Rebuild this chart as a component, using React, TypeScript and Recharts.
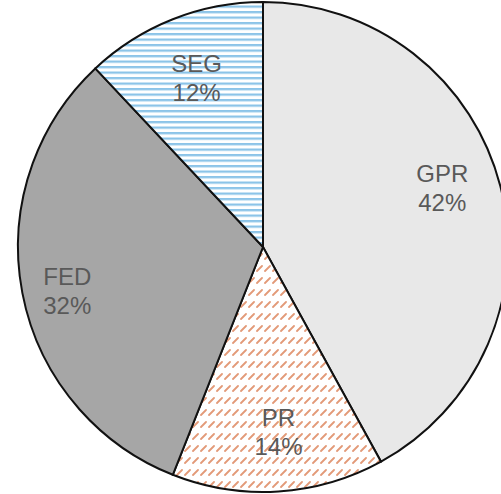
import { PieChart, Pie, Cell } from "recharts";

const CATEGORIES = ["GPR", "PR", "FED", "SEG"];
const SHARES = [42, 14, 32, 12];

const FILLS = ["#e8e8e8", "url(#prHatch)", "#a6a6a6", "url(#segLines)"];
// small hand nudges so labels sit where the original put them
const LABEL_NUDGE = [
  [2, -13],
  [4, 2],
  [-16, 10],
  [1, 1],
];

const RAD = Math.PI / 180;

const data = CATEGORIES.map((name, i) => ({ name, value: SHARES[i] }));
const total = SHARES.reduce((s, v) => s + v, 0);

function renderLabel(props: any) {
  const { cx, cy, midAngle, index, value, name } = props;
  const r = 183;
  const x = cx + r * Math.cos(-midAngle * RAD) + LABEL_NUDGE[index][0];
  const y = cy + r * Math.sin(-midAngle * RAD) + LABEL_NUDGE[index][1];
  const pct = Math.round((value / total) * 100);
  return (
    <text
      x={x}
      y={y}
      textAnchor="middle"
      fill="#595959"
      fontFamily="'Liberation Sans', Arial, sans-serif"
      fontSize={24}
    >
      <tspan x={x} y={y - 6}>
        {name}
      </tspan>
      <tspan x={x} y={y + 23}>
        {pct}%
      </tspan>
    </text>
  );
}

export default function App() {
  return (
    <div style={{ position: "absolute", left: 0, top: 0, background: "#fff" }}>
      <PieChart width={501} height={494} margin={{ top: 0, right: 0, bottom: 0, left: 0 }}>
        <defs>
          <pattern id="prHatch" patternUnits="userSpaceOnUse" width={8} height={12}>
            <rect width={8} height={12} fill="#ffffff" />
            <line x1={1} y1={7} x2={6} y2={2} stroke="#e39a78" strokeWidth={1.8} strokeLinecap="round" />
          </pattern>
          <pattern id="segLines" patternUnits="userSpaceOnUse" width={10} height={5.5}>
            <rect width={10} height={5.5} fill="#ffffff" />
            <rect y={0} width={10} height={2.3} fill="#8cc4e8" />
          </pattern>
        </defs>
        <Pie
          data={data}
          dataKey="value"
          nameKey="name"
          cx={263}
          cy={247}
          outerRadius={245}
          startAngle={90}
          endAngle={-270}
          stroke="#111"
          strokeWidth={2}
          label={renderLabel}
          labelLine={false}
          isAnimationActive={false}
        >
          {data.map((entry, index) => (
            <Cell key={`cell-${index}`} fill={FILLS[index]} />
          ))}
        </Pie>
      </PieChart>
    </div>
  );
}
